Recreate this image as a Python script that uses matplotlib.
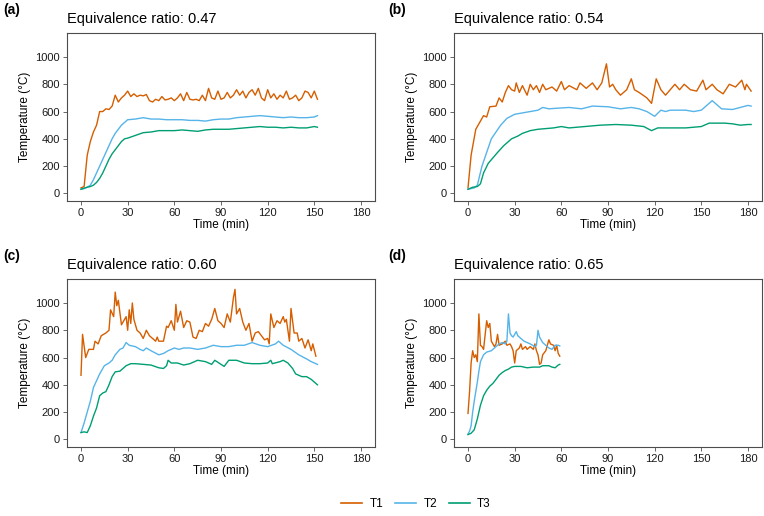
import matplotlib.pyplot as plt
from matplotlib.lines import Line2D

plt.rcParams['font.family'] = ['Liberation Sans', 'DejaVu Sans']

# Panel (a): equivalence ratio 0.47
a_t1_time = list(range(0, 153, 2))
a_t1 = [40, 50, 280, 380, 450, 500, 600, 600, 620, 615, 640, 720, 670, 700, 720, 750,
        710, 730, 710, 720, 715, 725, 680, 670, 690, 680, 710, 685, 690, 700, 680, 700,
        730, 680, 740, 690, 685, 690, 680, 720, 680, 770, 700, 690, 750, 690, 700, 740,
        700, 720, 760, 720, 750, 700, 740, 760, 720, 770, 700, 680, 760, 700, 730, 690,
        720, 700, 750, 690, 700, 720, 680, 700, 750, 740, 700, 750, 690]
a_time = [0, 2, 4, 6, 8, 10, 12, 14, 16, 18, 20, 22, 24, 26, 28, 30, 35, 40, 45, 50, 55,
          60, 65, 70, 75, 80, 85, 90, 95, 100, 105, 110, 115, 120, 125, 130, 135, 140,
          145, 150, 152]
a_t2 = [30, 35, 45, 60, 100, 150, 200, 250, 300, 350, 400, 440, 470, 500, 520, 540, 545,
        555, 545, 545, 540, 540, 540, 535, 535, 530, 540, 545, 545, 555, 560, 565, 570,
        565, 560, 555, 560, 555, 555, 560, 570]
a_t3 = [30, 38, 45, 50, 60, 80, 110, 150, 200, 250, 290, 320, 350, 380, 400, 405, 425,
        445, 450, 460, 460, 460, 465, 460, 455, 465, 470, 470, 470, 475, 480, 485, 490,
        485, 485, 480, 485, 480, 480, 490, 485]

# Panel (b): equivalence ratio 0.54
b_t1_time = [0, 2, 5, 8, 10, 12, 14, 18, 20, 22, 24, 26, 28, 30, 31, 33, 35, 38, 40, 42,
             44, 46, 48, 50, 54, 57, 60, 62, 65, 70, 72, 76, 80, 83, 86, 89, 91, 93, 95,
             98, 102, 105, 107, 110, 115, 118, 121, 124, 127, 130, 133, 136, 139, 143,
             147, 151, 153, 157, 160, 164, 168, 172, 176, 178, 179, 182]
b_t1 = [40, 280, 470, 530, 570, 560, 635, 640, 700, 670, 740, 790, 760, 750, 810, 740,
        790, 720, 800, 760, 790, 740, 800, 760, 780, 750, 820, 760, 790, 760, 810, 770,
        810, 760, 810, 950, 780, 800, 760, 720, 760, 840, 760, 740, 700, 660, 840, 760,
        720, 760, 800, 760, 800, 760, 750, 830, 760, 800, 760, 730, 800, 780, 830, 760,
        800, 750]
b_t2_time = [0, 4, 6, 9, 12, 15, 18, 21, 25, 30, 35, 40, 45, 48, 52, 58, 65, 73, 80, 90,
             98, 105, 110, 115, 120, 124, 127, 130, 140, 145, 150, 157, 163, 170, 175,
             180, 182]
b_t2 = [30, 40, 60, 200, 300, 400, 450, 500, 550, 580, 590, 600, 610, 630, 620, 625, 630,
        620, 640, 635, 620, 630, 620, 600, 565, 610, 600, 610, 610, 600, 610, 680, 620,
        615, 630, 645, 640]
b_t3_time = [0, 3, 6, 8, 10, 13, 16, 19, 23, 28, 32, 35, 40, 45, 55, 60, 65, 75, 85, 95,
             105, 113, 118, 122, 130, 140, 150, 155, 165, 170, 175, 180, 182]
b_t3 = [30, 45, 50, 70, 150, 220, 260, 300, 350, 400, 420, 440, 460, 470, 480, 490, 480,
        490, 500, 505, 500, 490, 460, 480, 480, 480, 490, 515, 515, 510, 500, 505, 505]

# Panel (c): equivalence ratio 0.60
c_t1_time = [0, 1, 3, 5, 8, 9, 11, 13, 16, 18, 19, 21, 22, 23, 24, 25, 26, 28, 29, 30, 31,
             32, 33, 34, 36, 38, 40, 42, 44, 46, 48, 49, 50, 53, 55, 56, 58, 60, 61, 62,
             64, 66, 68, 70, 72, 74, 76, 78, 80, 82, 84, 86, 88, 90, 92, 94, 96, 98, 99,
             100, 102, 104, 106, 108, 110, 112, 114, 116, 118, 120, 121, 122, 124, 126,
             128, 130, 131, 132, 134, 135, 137, 139, 140, 142, 144, 146, 148, 149, 151]
c_t1 = [470, 770, 600, 660, 660, 720, 700, 760, 780, 800, 950, 900, 1080, 980, 1020, 930,
        840, 880, 900, 800, 950, 850, 1000, 880, 800, 780, 740, 800, 760, 740, 720, 750,
        720, 720, 830, 820, 870, 800, 990, 860, 940, 820, 870, 860, 750, 740, 800, 790,
        850, 830, 880, 960, 870, 850, 820, 920, 860, 1040, 1100, 920, 960, 860, 800, 850,
        720, 780, 790, 760, 730, 740, 700, 920, 820, 870, 850, 900, 860, 880, 720, 960,
        780, 780, 720, 740, 670, 730, 650, 700, 610]
c_t2_time = [0, 2, 4, 6, 8, 10, 12, 15, 18, 20, 22, 25, 27, 29, 31, 35, 38, 40, 42, 45,
             50, 53, 56, 60, 63, 66, 70, 75, 80, 85, 90, 95, 100, 105, 110, 115, 120,
             125, 127, 130, 135, 140, 145, 148, 152]
c_t2 = [50, 120, 200, 280, 380, 430, 480, 540, 560, 580, 620, 660, 670, 710, 690, 680,
        660, 650, 670, 650, 620, 630, 650, 670, 660, 670, 670, 660, 670, 690, 680, 680,
        690, 690, 710, 690, 680, 700, 720, 690, 660, 620, 590, 570, 550]
c_t3_time = [0, 2, 4, 6, 8, 10, 12, 14, 16, 18, 20, 22, 25, 27, 29, 32, 35, 40, 45, 50,
             53, 55, 56, 58, 62, 66, 70, 75, 80, 84, 86, 90, 92, 95, 100, 105, 110, 115,
             120, 122, 123, 128, 130, 133, 136, 138, 142, 145, 148, 152]
c_t3 = [50, 55, 50, 100, 170, 230, 320, 340, 350, 400, 460, 495, 500, 520, 540, 555, 555,
        550, 545, 525, 520, 540, 580, 560, 560, 545, 555, 580, 570, 550, 580, 550, 535,
        580, 580, 560, 555, 555, 560, 580, 555, 570, 580, 560, 520, 480, 460, 460, 440,
        400]

# Panel (d): equivalence ratio 0.65
d_t1_time = [0, 1, 2, 3, 4, 5, 6, 7, 8, 9, 10, 12, 13, 14, 15, 17, 18, 19, 20, 22, 24,
             25, 27, 28, 29, 30, 31, 33, 34, 35, 37, 38, 40, 42, 43, 44, 45, 46, 47, 48,
             50, 52, 53, 55, 56, 57, 58, 59]
d_t1 = [190, 350, 560, 650, 600, 620, 570, 920, 690, 680, 660, 870, 820, 850, 720, 680,
        700, 770, 690, 700, 720, 690, 700, 680, 650, 560, 650, 670, 700, 660, 680, 660,
        680, 660, 700, 650, 620, 550, 560, 620, 650, 730, 700, 690, 650, 690, 630, 610]
d_t2_time = [0, 1, 2, 3, 4, 5, 6, 7, 8, 10, 12, 15, 18, 20, 22, 24, 25, 26, 27, 28, 29,
             31, 32, 34, 36, 40, 43, 44, 45, 46, 48, 50, 52, 54, 56, 58, 59]
d_t2 = [40, 60, 100, 200, 280, 350, 420, 500, 570, 620, 640, 650, 680, 700, 710, 700,
        720, 920, 780, 760, 750, 790, 760, 740, 720, 700, 680, 690, 800, 750, 710, 690,
        670, 660, 690, 690, 685]
d_t3_time = [0, 2, 4, 6, 8, 10, 12, 14, 16, 18, 20, 22, 24, 26, 28, 30, 34, 38, 42, 46,
             48, 52, 54, 56, 58, 59]
d_t3 = [35, 45, 70, 150, 250, 320, 360, 390, 410, 440, 470, 490, 505, 515, 530, 535, 535,
        525, 530, 530, 540, 540, 530, 525, 545, 550]

panels = [
    ("(a)", "0.47", (a_t1_time, a_t1), (a_time, a_t2), (a_time, a_t3)),
    ("(b)", "0.54", (b_t1_time, b_t1), (b_t2_time, b_t2), (b_t3_time, b_t3)),
    ("(c)", "0.60", (c_t1_time, c_t1), (c_t2_time, c_t2), (c_t3_time, c_t3)),
    ("(d)", "0.65", (d_t1_time, d_t1), (d_t2_time, d_t2), (d_t3_time, d_t3)),
]
series_names = ["T1", "T2", "T3"]
colors = ["#D55E00", "#56B4E9", "#009E73"]

fig = plt.figure(figsize=(7.64, 5.16), dpi=100)
W, H = 764, 516
# axes boxes in pixels: left, top, and where the panel tag goes
boxes = [(67, 33, 3), (454, 33, 388), (67, 279, 3), (454, 279, 388)]
bw, bh = 308, 168

for (tag, ratio, *series), (lx, top, tagx) in zip(panels, boxes):
    ax = fig.add_axes([lx / W, 1 - (top + bh) / H, bw / W, bh / H])
    for (tx, vals), col in zip(series, colors):
        ax.plot(tx, vals, color=col, linewidth=1.0)
    ax.set_xlim(-9, 189)
    ax.set_ylim(-56, 1176)
    ax.set_xticks(range(0, 181, 30))
    ax.set_yticks(range(0, 1001, 200))
    for s in ax.spines.values():
        s.set_color("#4D4D4D")
        s.set_linewidth(0.8)
    ax.tick_params(colors="#4D4D4D", labelcolor="#1A1A1A", labelsize=8, length=3,
                   width=0.6, pad=2)
    ax.set_xlabel("Time (min)", fontsize=8.5, labelpad=1)
    ax.set_ylabel("Temperature (°C)", fontsize=8.5, labelpad=3)
    fig.text(tagx / W, 1 - (top - 23) / H, tag, fontsize=10, fontweight="bold",
             ha="left", va="center")
    ax.set_title(f"Equivalence ratio: {ratio}", fontsize=10.5, loc="left", pad=7)

handles = [Line2D([], [], color=c, linewidth=1.2) for c in colors]
fig.legend(handles, series_names, loc="center", bbox_to_anchor=(416 / W, 1 - 504 / H),
           ncol=3, frameon=False, fontsize=8.5, handlelength=1.8, columnspacing=1.0,
           handletextpad=0.6)

fig.savefig("out.png", dpi=100)
